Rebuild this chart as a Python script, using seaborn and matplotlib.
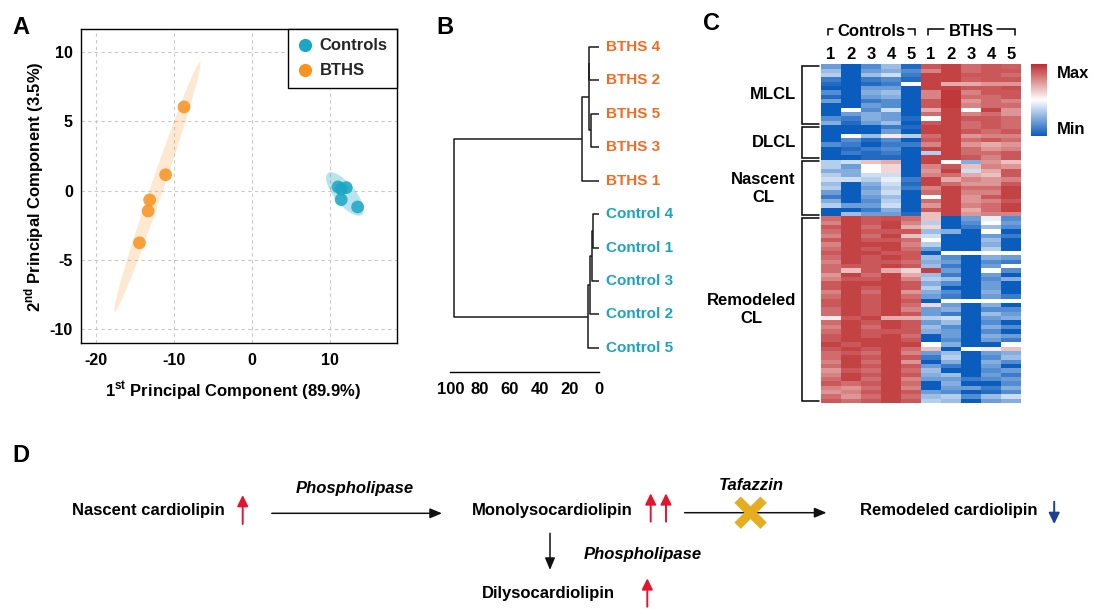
import numpy as np
import pandas as pd
import matplotlib
matplotlib.use("Agg")
import matplotlib.pyplot as plt
from matplotlib.patches import Ellipse
from matplotlib.lines import Line2D
from matplotlib.colors import LinearSegmentedColormap
import seaborn as sns

W, H, DPI = 1094, 609, 100

# ---------------- data: panel A (PCA) ----------------
pca_group = ["Controls"] * 5 + ["BTHS"] * 5
pc1 = [11.0, 12.05, 11.4, 11.4, 13.5, -8.7, -11.05, -13.1, -13.3, -14.4]
pc2 = [0.27, 0.22, 0.12, -0.65, -1.18, 6.05, 1.15, -0.67, -1.47, -3.77]
group_order = ["Controls", "BTHS"]
group_colors = {"Controls": "#1BA6C4", "BTHS": "#F7931E"}
a_xticks = [-20, -10, 0, 10]
a_yticks = [-10, -5, 0, 5, 10]

# ---------------- data: panel B (dendrogram) ----------------
leaf_labels = ["BTHS 4", "BTHS 2", "BTHS 5", "BTHS 3", "BTHS 1",
               "Control 4", "Control 1", "Control 3", "Control 2", "Control 5"]
merge_a = [0, 2, 10, 12, 5, 14, 15, 16, 13]
merge_b = [1, 3, 11, 4, 6, 7, 8, 9, 17]
merge_h = [6.9, 5.6, 7.1, 11.4, 4.2, 5.1, 6.0, 7.8, 97.5]
dist_ticks = [100, 80, 60, 40, 20, 0]
leaf_colors = {"BTHS": "#F26B22", "Control": "#1CA4BE"}

# ---------------- data: panel C (heatmap) ----------------
heat_cols = ["1", "2", "3", "4", "5", "1", "2", "3", "4", "5"]
col_groups = ["Controls", "BTHS"]
col_group_sizes = [5, 5]
row_groups = ["MLCL", "DLCL", "Nascent\nCL", "Remodeled\nCL"]
mlcl_rows = [
    [-0.6, -1, -0.7, -0.4, -0.9, 0.8, 0.9, 0.7, 0.8, 0.75],
    [-0.4, -1, -0.6, -0.5, -0.7, 0.6, 0.9, 0.7, 0.8, 0.8],
    [-0.3, -1, -0.4, -0.2, -0.8, 0.9, 0.9, 0.8, 0.8, 0.7],
    [-0.8, -1, -0.8, -0.7, -0.9, 0.9, 0.9, 0.75, 0.8, 0.8],
    [-0.9, -1, -0.9, -0.8, 0.0, 0.9, 0.4, 0.4, 0.5, 0.5],
    [-1, -1, -0.6, -0.6, -1, 0.9, 0.9, 0.8, 0.8, 0.85],
    [-0.7, -1, -0.5, -0.4, -1, 0.6, 0.95, 0.6, 0.8, 0.8],
    [-0.9, -1, -0.6, -0.5, -1, 0.6, 0.95, 0.7, 0.7, 0.8],
    [-0.6, -1, -0.8, -0.7, -1, 0.8, 0.95, 0.5, 0.7, 0.6],
    [-1, -1, -0.6, -0.7, -1, 0.8, 0.95, 0.6, 0.7, 0.7],
    [-1, 0.0, -0.7, -0.2, -1, 0.4, 0.9, 0.0, 0.9, 0.5],
    [-1, -0.6, -0.5, -0.6, -1, 0.7, 0.9, 0.6, 0.7, 0.5],
    [-0.7, -0.8, -0.5, -0.6, -0.9, 0.0, 0.9, 0.8, 0.8, 0.7],
    [-0.5, -0.9, -0.6, -0.4, -1, 0.8, 0.9, 0.7, 0.8, 0.7],
]
dlcl_rows = [
    [-1, -1, -1, -0.8, -0.9, 0.9, 0.9, 0.7, 0.8, 0.7],
    [-1, -1, -1, -0.6, -1, 0.9, 0.9, 0.8, 0.7, 0.8],
    [-1, 0.0, -0.4, 0.1, -0.3, 0.7, 0.9, 0.5, 0.6, 0.6],
    [-1, -0.7, -0.9, -0.7, -1, 0.8, 0.9, 0.7, 0.8, 0.7],
    [-0.7, -0.8, -1, -0.8, -0.8, 0.6, 0.9, 0.5, 0.4, 0.5],
    [-1, -0.9, -0.8, -0.7, -1, 0.9, 0.9, 0.7, 0.5, 0.6],
    [-1, -0.8, -0.9, -0.8, -1, -0.3, 0.9, 0.7, 0.7, 0.8],
    [-1, -1, -0.9, -0.9, -1, 0.9, 0.9, 0.8, 0.6, 0.8],
]
nascent_rows = [
    [-0.3, -0.2, 0.3, 0.4, -1, 0.9, 0.0, -0.5, 0.5, 0.3],
    [-0.3, -0.6, 0.0, 0.2, -1, 0.6, 0.8, 0.3, 0.6, 0.5],
    [-0.5, -0.5, 0.0, 0.2, -1, 0.5, 0.9, -0.2, 0.4, 0.8],
    [-0.3, -0.5, -0.2, -0.2, -1, 0.6, 0.7, 0.4, 0.3, 0.8],
    [-0.2, -0.2, -0.3, -0.1, -0.8, 0.9, 0.4, 0.6, 0.5, 0.6],
    [-0.4, -1, -0.5, -0.2, -0.9, 0.9, 0.7, 0.5, 0.5, 0.8],
    [-0.3, -1, -0.6, -0.3, -0.8, 0.6, 0.9, 0.7, 0.7, 0.9],
    [-0.6, -1, -0.5, -0.2, -1, 0.7, 0.9, 0.6, 0.6, 0.9],
    [-0.8, -1, -0.6, -0.4, -1, 0.0, 0.9, 0.5, 0.8, 0.9],
    [-0.5, -1, -0.7, -0.3, -1, 0.7, 0.9, 0.5, 0.6, 0.8],
    [-0.3, -0.6, -0.6, -0.2, -1, 0.5, 0.9, 0.6, 0.7, 0.9],
    [-1, -1, -0.8, -0.5, -1, 0.8, 0.9, 0.4, 0.7, 0.9],
    [-1, -0.4, -0.6, -0.6, -0.9, 0.3, 0.9, 0.5, 0.6, 0.6],
]
remodeled_rows = [
    [0.7, 0.9, 0.8, 0.85, 0.7, 0.3, -1, -0.6, -0.1, -0.7],
    [0.6, 0.9, 0.8, 0.9, 0.6, -0.3, -1, -0.7, 0.0, -0.6],
    [0.8, 0.9, 0.7, 0.9, 0.4, 0.2, -1, -0.8, -0.4, -0.7],
    [0.7, 0.9, 0.8, 0.8, 0.8, -0.4, -0.5, -1, 0.0, -1],
    [0.6, 0.9, 0.7, 0.9, 0.3, -0.2, -1, -1, -0.6, -0.8],
    [0.8, 0.9, 0.8, 0.8, 0.7, 0.0, -1, -1, -0.4, -1],
    [0.6, 0.9, 0.9, 0.9, 0.6, -0.3, -1, -1, -0.5, -1],
    [0.7, 0.9, 0.8, 0.9, 0.7, -0.6, -1, -1, -0.3, -1],
    [0.8, 0.9, 0.9, 0.8, 0.8, -1, 0.0, 0.0, 0.0, 0.0],
    [0.7, 0.9, 0.8, 0.9, 0.8, -0.4, -0.7, -1, -0.5, -0.6],
    [0.6, 0.9, 0.8, 0.8, 0.7, -0.5, -0.6, -1, -0.7, -0.8],
    [0.7, 0.8, 0.8, 0.9, 0.8, -0.4, -0.8, -1, -0.6, 0.0],
    [0.7, 0.3, 0.8, 0.4, 0.2, 0.9, -0.6, -1, 0.0, -0.7],
    [0.5, 0.9, 0.7, 0.9, 0.4, -0.4, -0.8, -1, -0.6, -1],
    [0.6, 0.8, 0.8, 0.9, 0.6, -0.3, -0.4, -1, -0.7, -0.5],
    [0.8, 0.9, 0.9, 0.9, 0.8, -0.5, -0.7, -1, -0.6, -1],
    [0.8, 0.9, 0.8, 0.9, 0.8, -0.3, -1, -1, -0.6, -1],
    [0.6, 0.9, 0.7, 0.9, 0.5, -0.5, -0.7, -1, -0.5, -1],
    [0.7, 0.9, 0.8, 0.9, 0.7, -0.6, -0.8, -1, -0.6, -0.8],
    [0.8, 0.9, 0.8, 0.9, 0.8, -1, 0.0, 0.0, 0.0, 0.0],
    [0.8, 0.9, 0.8, 0.9, 0.7, 0.2, -0.6, -1, -0.5, -1],
    [0.7, 0.9, 0.8, 0.9, 0.6, -0.6, -0.5, -1, -0.7, -0.7],
    [0.7, 0.9, 0.8, 0.9, 0.8, -0.6, -0.8, -1, -0.4, -0.6],
    [0.1, 0.8, 0.9, 0.4, 0.4, -0.3, -0.2, -1, -0.6, -0.5],
    [0.7, 0.9, 0.8, 0.9, 0.8, -0.6, -0.4, -1, -0.7, -1],
    [0.6, 0.9, 0.7, 0.9, 0.8, -0.4, -0.7, -1, -0.5, -0.7],
    [0.7, 0.9, 0.8, 0.8, 0.8, -0.5, -0.6, -1, -0.7, -1],
    [0.8, 0.9, 0.8, 0.9, 0.7, -1, -0.6, -1, -0.5, -0.6],
    [0.8, 0.9, 0.9, 0.9, 0.8, -1, -0.7, -1, -0.6, -0.8],
    [0.9, 0.8, 0.9, 0.9, 0.9, 0.0, -0.5, -1, -1, 0.0],
    [0.8, 0.9, 0.8, 0.9, 0.7, 0.3, -1, 0.0, 0.1, 0.3],
    [0.7, 0.8, 0.7, 0.9, 0.6, -0.6, -0.4, -1, -0.6, -0.5],
    [0.7, 0.9, 0.8, 0.9, 0.8, -0.8, -0.3, -1, -0.7, -0.4],
    [0.6, 0.9, 0.7, 0.9, 0.5, -1, -0.5, -1, -0.5, -0.7],
    [0.7, 0.9, 0.8, 0.9, 0.8, -0.6, -0.8, -1, -0.6, -1],
    [0.5, 0.8, 0.7, 0.9, 0.7, -0.4, -1, -1, -0.7, -0.6],
    [0.6, 0.9, 0.8, 0.9, 0.8, -0.5, -0.4, -1, -0.6, -0.8],
    [0.7, 0.9, 0.7, 0.9, 0.6, -0.6, -0.6, -0.8, -0.7, -0.6],
    [0.8, 0.7, 0.8, 0.9, 0.7, -1, -0.5, -1, -1, -0.7],
    [0.6, 0.5, 0.7, 0.9, 0.6, -1, -0.6, -0.6, -0.8, -0.5],
    [0.5, 0.6, 0.8, 0.9, 0.8, -0.6, -0.7, -1, -0.9, -0.7],
    [0.7, 0.5, 0.7, 0.9, 0.7, -0.4, -0.3, -0.7, -0.4, -0.2],
    [0.8, 0.7, 0.8, 0.9, 0.8, -0.3, -0.4, -1, -0.6, -0.5],
]
row_blocks = [mlcl_rows, dlcl_rows, nascent_rows, remodeled_rows]

# ---------------- style ----------------
sns.set_theme(style="white")
plt.rcParams["font.family"] = ["Liberation Sans", "DejaVu Sans"]
plt.rcParams["font.weight"] = "bold"
plt.rcParams["axes.labelweight"] = "bold"
plt.rcParams["axes.unicode_minus"] = False
plt.rcParams["mathtext.fontset"] = "custom"
plt.rcParams["mathtext.bf"] = "Liberation Sans:bold"
plt.rcParams["mathtext.rm"] = "Liberation Sans:bold"

fig = plt.figure(figsize=(W / DPI, H / DPI), dpi=DPI)


def rect(l, t, r, b):
    return [l / W, 1 - b / H, (r - l) / W, (b - t) / H]


# ================= Panel A =================
axA = fig.add_axes(rect(81.3, 29.3, 396.7, 343.3))
df = pd.DataFrame({"PC1": pc1, "PC2": pc2, "group": pca_group})
ell_alpha = {"Controls": 0.3, "BTHS": 0.2}
k95 = np.sqrt(5.991)
for g in group_order:
    sub = df[df.group == g]
    cov = np.cov(sub.PC1, sub.PC2)
    vals, vecs = np.linalg.eigh(cov)
    order = vals.argsort()[::-1]
    vals, vecs = vals[order], vecs[:, order]
    ang = np.degrees(np.arctan2(vecs[1, 0], vecs[0, 0]))
    axA.add_patch(Ellipse((sub.PC1.mean(), sub.PC2.mean()),
                          2 * k95 * np.sqrt(vals[0]), 2 * k95 * np.sqrt(vals[1]),
                          angle=ang, facecolor=group_colors[g],
                          alpha=ell_alpha[g], edgecolor="none", zorder=1))
sns.scatterplot(data=df, x="PC1", y="PC2", hue="group", hue_order=group_order,
                palette=group_colors, s=85, alpha=0.85, edgecolor="none",
                legend=False, ax=axA, zorder=3)
axA.set_xlim(-21.84, 18.5)
axA.set_ylim(-11.03, 11.66)
axA.set_xticks(a_xticks)
axA.set_yticks(a_yticks)
axA.grid(True, color="#C8C8C8", lw=0.8, ls=(0, (3, 3)))
axA.set_axisbelow(True)
for s in axA.spines.values():
    s.set_color("black")
    s.set_linewidth(1.0)
axA.tick_params(axis="both", which="both", direction="out", length=3,
                width=1, color="black", labelsize=11.5, labelcolor="black")
axA.tick_params(axis="x", pad=4)
axA.tick_params(axis="y", pad=3)
for lab in axA.get_xticklabels() + axA.get_yticklabels():
    lab.set_fontweight("bold")
axA.set_xlabel(r"1$^{\mathbf{st}}$ Principal Component (89.9%)", fontsize=12,
               fontweight="bold", color="black")
axA.set_ylabel(r"2$^{\mathbf{nd}}$ Principal Component (3.5%)", fontsize=12,
               fontweight="bold", color="black")
axA.xaxis.set_label_coords(0.48, -0.115)
axA.yaxis.set_label_coords(-0.113, 0.5)
handles = [Line2D([], [], ls="", marker="o", markersize=9.5, markeredgewidth=0,
                  color=group_colors[g]) for g in group_order]
leg = axA.legend(handles, group_order, loc="upper right", borderaxespad=0,
                 fancybox=False, frameon=True, edgecolor="black", framealpha=1,
                 fontsize=12, handlelength=1.0, handletextpad=0.35,
                 borderpad=0.55, labelspacing=0.6)
leg.get_frame().set_linewidth(1.0)
for t in leg.get_texts():
    t.set_fontweight("bold")

# ================= Panel B =================
axB = fig.add_axes(rect(450.3, 30, 599.3, 372))
pos = {i: float(i) for i in range(len(leaf_labels))}
hgt = {i: 0.0 for i in range(len(leaf_labels))}
for kk, (a, b, h) in enumerate(zip(merge_a, merge_b, merge_h)):
    axB.plot([hgt[a], h, h, hgt[b]], [pos[a], pos[a], pos[b], pos[b]],
             color="#1A1A1A", lw=1.1, solid_capstyle="butt", clip_on=False)
    nid = len(leaf_labels) + kk
    pos[nid] = (pos[a] + pos[b]) / 2
    hgt[nid] = h
for i, lab in enumerate(leaf_labels):
    col = leaf_colors["BTHS"] if lab.startswith("BTHS") else leaf_colors["Control"]
    axB.annotate(lab, xy=(0, i), xytext=(4.6, 0), textcoords="offset points",
                 ha="left", va="center", fontsize=11, fontweight="bold",
                 color=col, annotation_clip=False)
axB.set_xlim(100, 0)
axB.set_ylim(9.72, -0.5)
axB.set_xticks(dist_ticks)
axB.set_yticks([])
for side in ["top", "right", "left"]:
    axB.spines[side].set_visible(False)
axB.spines["bottom"].set_color("black")
axB.spines["bottom"].set_linewidth(1.0)
axB.tick_params(axis="x", direction="out", length=4, width=1, color="black",
                labelsize=12, labelcolor="black", pad=3)
for lab in axB.get_xticklabels():
    lab.set_fontweight("bold")
axB.patch.set_alpha(0)

# ================= Panel C =================
axC = fig.add_axes(rect(821, 64.3, 1021, 403))
cax = fig.add_axes(rect(1031, 64, 1047, 136))
heat = pd.DataFrame([r for blk in row_blocks for r in blk])
cmap = LinearSegmentedColormap.from_list("bwr_fig", ["#0A5CBD", "#FFFFFF", "#BD2E30"])
sns.heatmap(heat, ax=axC, cmap=cmap, vmin=-1, vmax=1, cbar=True, cbar_ax=cax,
            xticklabels=heat_cols, yticklabels=False)
axC.xaxis.tick_top()
axC.tick_params(axis="x", length=0, pad=1.5, labelsize=12, labelcolor="black")
for lab in axC.get_xticklabels():
    lab.set_rotation(0)
    lab.set_fontweight("bold")
cbar = axC.collections[0].colorbar
cbar.set_ticks([])
cbar.outline.set_visible(False)
cax.text(1.6, 0.87, "Max", transform=cax.transAxes, ha="left", va="center",
         fontsize=12, fontweight="bold", color="black")
cax.text(1.6, 0.09, "Min", transform=cax.transAxes, ha="left", va="center",
         fontsize=12, fontweight="bold", color="black")

# row group brackets and labels
start = 0
for name, blk in zip(row_groups, row_blocks):
    n = len(blk)
    y0, y1 = start + 0.35, start + n - 0.35
    axC.plot([-0.085, -0.935, -0.935, -0.085], [y0, y0, y1, y1], color="black",
             lw=1.1, clip_on=False, solid_joinstyle="miter")
    axC.text(-1.25, start + n / 2, name, ha="right", va="center",
             multialignment="center", fontsize=12, fontweight="bold",
             color="black", linespacing=1.25)
    start += n

# column group labels with brackets
fig.canvas.draw()
renderer = fig.canvas.get_renderer()
cstart = 0
inv = axC.transData.inverted()
for name, n in zip(col_groups, col_group_sizes):
    cx = cstart + n / 2
    t = axC.text(cx, -7.5, name, ha="center", va="center", fontsize=12,
                 fontweight="bold", color="black", clip_on=False)
    bb = t.get_window_extent(renderer)
    xl = inv.transform((bb.x0 - 4, 0))[0]
    xr = inv.transform((bb.x1 + 3, 0))[0]
    yl, yt = -8.1, -6.75
    axC.plot([cstart + 0.33, cstart + 0.33, xl], [yt, yl, yl], color="black",
             lw=1.1, clip_on=False, solid_joinstyle="miter")
    axC.plot([xr, cstart + n - 0.3, cstart + n - 0.3], [yl, yl, yt],
             color="black", lw=1.1, clip_on=False, solid_joinstyle="miter")
    cstart += n

# ================= Overlay (panel letters, panel D) =================
axO = fig.add_axes([0, 0, 1, 1])
axO.set_xlim(0, W)
axO.set_ylim(H, 0)
axO.axis("off")
axO.patch.set_visible(False)

letter = dict(fontsize=17, fontweight="bold", color="black", va="baseline", ha="left")
axO.text(12.5, 33.5, "A", **letter)
axO.text(436, 34, "B", **letter)
axO.text(703, 29.5, "C", **letter)
axO.text(12.5, 462, "D", **letter)

txt = dict(fontsize=12, fontweight="bold", color="black", va="baseline")
axO.text(71.9, 515.5, "Nascent cardiolipin", ha="left", **txt)
axO.text(471.7, 515, "Monolysocardiolipin", ha="left", **txt)
axO.text(859.9, 515, "Remodeled cardiolipin", ha="left", **txt)
axO.text(482.3, 598.3, "Dilysocardiolipin", ha="left", **txt)
axO.text(354.6, 493.5, "Phospholipase", ha="center", style="italic", **txt)
axO.text(751, 489.5, "Tafazzin", ha="center", style="italic", **txt)
axO.text(583.3, 559.3, "Phospholipase", ha="left", style="italic", **txt)


def arrow(x0, y0, x1, y1, color, lw, hl, hw, ms=12):
    axO.annotate("", xy=(x1, y1), xytext=(x0, y0),
                 arrowprops=dict(arrowstyle=f"-|>,head_length={hl},head_width={hw}",
                                 color=color, lw=lw, shrinkA=0, shrinkB=0,
                                 mutation_scale=ms))


black = "#111111"
red = "#E3142D"
blue = "#1D3F94"
arrow(271.8, 513.3, 442, 513.3, black, 1.1, 0.6, 0.25)
arrow(684.6, 512.7, 826.5, 512.7, black, 1.1, 0.6, 0.25)
arrow(550, 533.3, 550, 570, black, 1.1, 0.6, 0.25)
arrow(242.7, 524, 242.7, 495, red, 1.4, 0.55, 0.27)
arrow(650.7, 521.7, 650.7, 493.3, red, 1.4, 0.55, 0.27)
arrow(666, 521.7, 666, 493.3, red, 1.4, 0.55, 0.27)
arrow(647.3, 606.7, 647.3, 578.3, red, 1.4, 0.55, 0.27)
arrow(1054.2, 501.7, 1054.2, 524, blue, 1.4, 0.55, 0.27)

# gold cross over the Tafazzin arrow
gold = "#E5AE1E"
cxp, cyp, d = 750.6, 512.7, 13
axO.plot([cxp - d, cxp + d], [cyp - d, cyp + d], color=gold, lw=6.5,
         solid_capstyle="butt", zorder=5)
axO.plot([cxp - d, cxp + d], [cyp + d, cyp - d], color=gold, lw=6.5,
         solid_capstyle="butt", zorder=5)

fig.savefig("out.png", dpi=DPI)
